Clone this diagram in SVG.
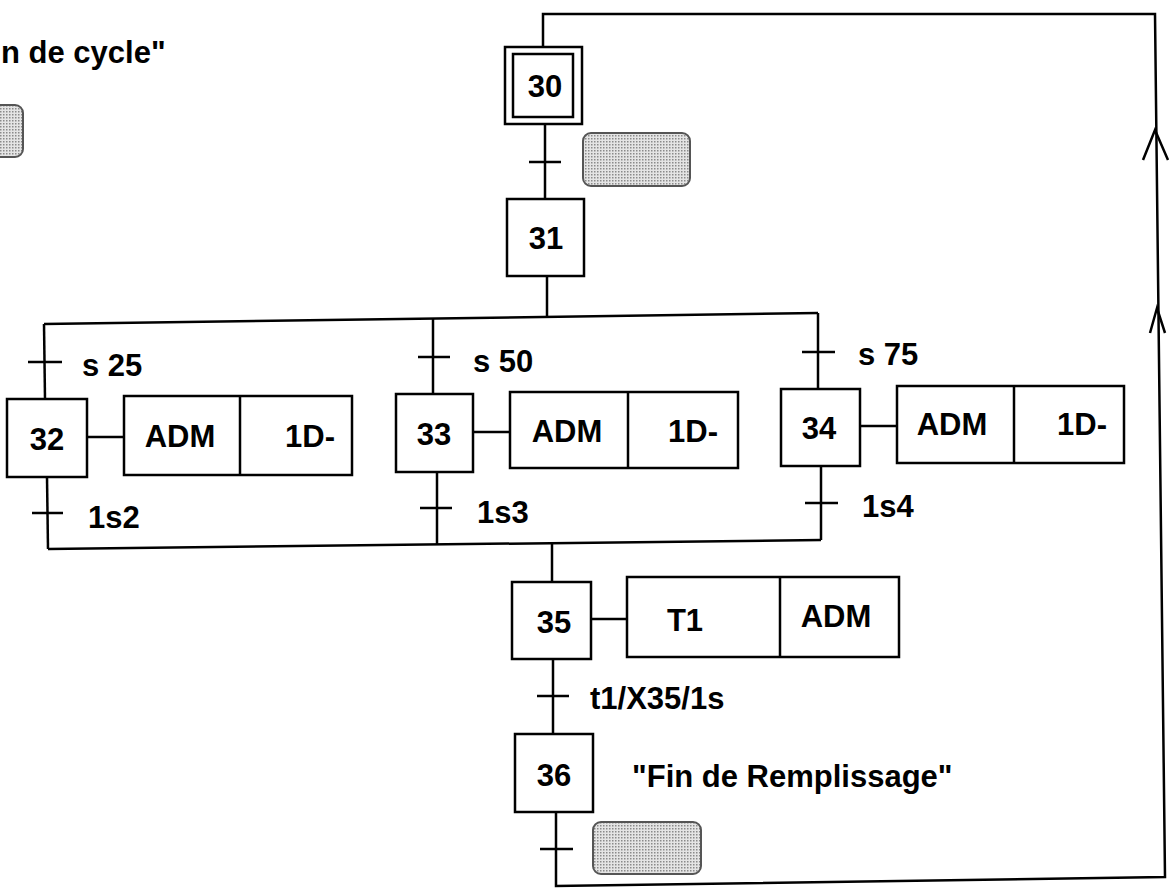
<svg xmlns="http://www.w3.org/2000/svg" width="1176" height="889" viewBox="0 0 1176 889">
<style>
.ln{fill:none;stroke:#000;stroke-width:2.5;stroke-linejoin:miter}
.bx{fill:#fff;stroke:#000;stroke-width:2.5}
.t{font-family:"Liberation Sans",Arial,sans-serif;font-weight:bold;font-size:31px;fill:#000}
.c{text-anchor:middle}
.g{fill:url(#dots);stroke:#555;stroke-width:2}
</style>
<defs>
<pattern id="dots" width="3" height="3" patternUnits="userSpaceOnUse">
<rect width="3" height="3" fill="#e4e4e4"/>
<rect width="1.5" height="1.5" fill="#8a8a8a"/>
</pattern>
</defs>
<rect width="1176" height="889" fill="#fff"/>
<g id="connectors">
<path class="ln" d="M556,812 L556,886 L1165,877 L1155,14 L543,14 L543,47"/>
<path class="ln" d="M545,124 L545,199"/>
<path class="ln" d="M547,275 L547,317"/>
<path class="ln" d="M44,324 L818,313"/>
<path class="ln" d="M44,324 L45,399"/>
<path class="ln" d="M433,319 L433,394"/>
<path class="ln" d="M818,313 L818,389"/>
<path class="ln" d="M47,477 L48,549"/>
<path class="ln" d="M437,472 L437,545"/>
<path class="ln" d="M821,466 L821,540"/>
<path class="ln" d="M48,549 L821,540"/>
<path class="ln" d="M552,544 L552,582"/>
<path class="ln" d="M553,659 L553,734"/>
<path class="ln" d="M87,437 L124,437"/>
<path class="ln" d="M473,432 L510,432"/>
<path class="ln" d="M860,426 L897,426"/>
<path class="ln" d="M591,619 L627,619"/>
<path class="ln" d="M529,162 L561,162 M28,362 L62,362 M418,357 L450,357 M802,352 L835,352 M32,513 L63,513 M420,508 L452,508 M805,503 L838,503 M537,696 L569,696 M540,849 L573,849"/>
<path class="ln" d="M1143,160 L1155,130 L1168,160"/>
<path class="ln" d="M1150,333 L1157,308 L1165,333"/>
</g>
<g id="label-fin-cycle"><text class="t" x="1" y="63">n de cycle"</text></g>
<g id="gray-0"><rect class="g" x="-12" y="105" width="35" height="52" rx="8"/></g>
<g id="step30"><rect class="bx" x="505" y="47" width="77" height="77"/><rect class="bx" x="513" y="54" width="60" height="63"/><text class="t c" x="545" y="97">30</text></g>
<g id="gray-1"><rect class="g" x="583" y="133" width="107" height="53" rx="8"/></g>
<g id="step31"><rect class="bx" x="507" y="199" width="77" height="77"/><text class="t c" x="546" y="249">31</text></g>
<g id="t-s25"><text class="t" x="82" y="376">s 25</text></g>
<g id="t-s50"><text class="t" x="473" y="372">s 50</text></g>
<g id="t-s75"><text class="t" x="858" y="365">s 75</text></g>
<g id="step32"><rect class="bx" x="7" y="399" width="80" height="78"/><text class="t c" x="47" y="450">32</text></g>
<g id="act32"><rect class="bx" x="124" y="396" width="228" height="79"/><line class="ln" x1="240" y1="396" x2="240" y2="475"/><text class="t c" x="180" y="447">ADM</text><text class="t c" x="310" y="447">1D-</text></g>
<g id="step33"><rect class="bx" x="396" y="394" width="77" height="78"/><text class="t c" x="434" y="445">33</text></g>
<g id="act33"><rect class="bx" x="510" y="392" width="228" height="76"/><line class="ln" x1="628" y1="392" x2="628" y2="468"/><text class="t c" x="567" y="442">ADM</text><text class="t c" x="693" y="442">1D-</text></g>
<g id="step34"><rect class="bx" x="781" y="389" width="79" height="77"/><text class="t c" x="819" y="439">34</text></g>
<g id="act34"><rect class="bx" x="897" y="386" width="227" height="77"/><line class="ln" x1="1014" y1="386" x2="1014" y2="463"/><text class="t c" x="952" y="435">ADM</text><text class="t c" x="1082" y="435">1D-</text></g>
<g id="t-1s2"><text class="t" x="88" y="528">1s2</text></g>
<g id="t-1s3"><text class="t" x="477" y="523">1s3</text></g>
<g id="t-1s4"><text class="t" x="862" y="517">1s4</text></g>
<g id="step35"><rect class="bx" x="512" y="582" width="79" height="77"/><text class="t c" x="554" y="633">35</text></g>
<g id="act35"><rect class="bx" x="627" y="577" width="272" height="80"/><line class="ln" x1="780" y1="577" x2="780" y2="657"/><text class="t c" x="685" y="631">T1</text><text class="t c" x="836" y="627">ADM</text></g>
<g id="t-t1"><text class="t" x="590" y="709">t1/X35/1s</text></g>
<g id="step36"><rect class="bx" x="515" y="734" width="78" height="78"/><text class="t c" x="554" y="786">36</text></g>
<g id="t-fin"><text class="t" x="632" y="787">"Fin de Remplissage"</text></g>
<g id="gray-2"><rect class="g" x="593" y="822" width="108" height="52" rx="8"/></g>
</svg>
